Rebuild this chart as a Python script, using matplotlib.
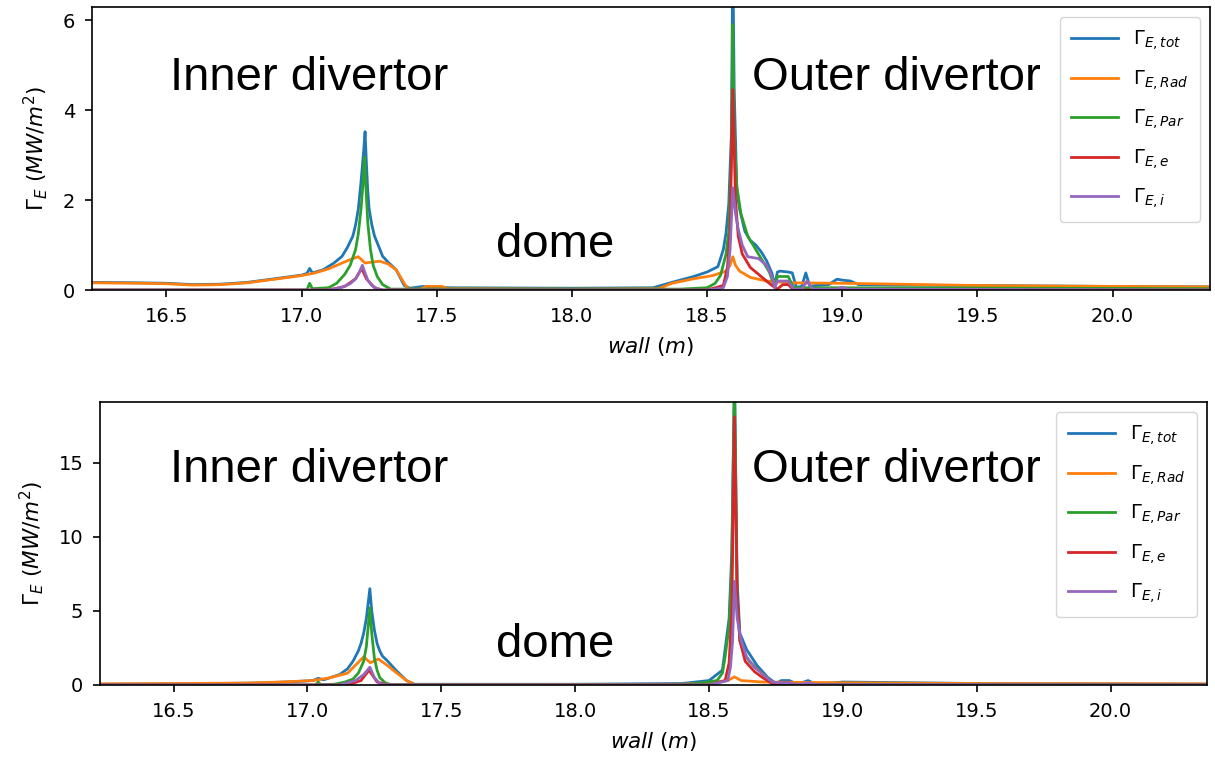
import numpy as np
import matplotlib.pyplot as plt

# values (MW/m^2) along the wall (m)
labels = [r'$\Gamma_{E,tot}$', r'$\Gamma_{E,Rad}$', r'$\Gamma_{E,Par}$',
          r'$\Gamma_{E,e}$', r'$\Gamma_{E,i}$']
colors = ['C0', 'C1', 'C2', 'C3', 'C4']

# ---- upper case ----
top_tot_x = [16.225, 16.4, 16.5, 16.6, 16.7, 16.8, 16.9, 17.0, 17.02, 17.03, 17.04, 17.08,
             17.12, 17.15, 17.17, 17.19, 17.20, 17.21, 17.22, 17.23, 17.235, 17.24, 17.245,
             17.25, 17.26, 17.27, 17.28, 17.29, 17.30, 17.32, 17.35, 17.38, 17.40, 17.45,
             17.5, 17.55, 18.0, 18.3, 18.37, 18.45, 18.5, 18.54, 18.56, 18.57, 18.58, 18.59,
             18.595, 18.60, 18.61, 18.62, 18.64, 18.66, 18.68, 18.70, 18.72, 18.74, 18.75,
             18.76, 18.77, 18.80, 18.815, 18.83, 18.85, 18.865, 18.88, 18.9, 18.95, 18.98,
             19.0, 19.03, 19.06, 19.2, 19.5, 20.0, 20.36]
top_tot_y = [0.17, 0.16, 0.15, 0.12, 0.13, 0.17, 0.25, 0.33, 0.37, 0.48, 0.38, 0.45,
             0.6, 0.75, 0.95, 1.2, 1.45, 1.8, 2.4, 3.1, 3.52, 2.8, 2.2,
             1.8, 1.45, 1.2, 1.05, 0.9, 0.75, 0.62, 0.45, 0.1, 0.04, 0.08,
             0.06, 0.05, 0.04, 0.05, 0.17, 0.3, 0.4, 0.52, 0.9, 1.27, 1.9, 3.5,
             7.5, 4.5, 2.2, 1.8, 1.3, 1.1, 1.0, 0.85, 0.65, 0.37, 0.1,
             0.4, 0.42, 0.4, 0.38, 0.06, 0.08, 0.38, 0.08, 0.1, 0.12, 0.24,
             0.22, 0.2, 0.12, 0.11, 0.1, 0.08, 0.07]

top_rad_x = [16.225, 16.4, 16.5, 16.6, 16.7, 16.8, 16.9, 17.0, 17.05, 17.1, 17.15, 17.19,
             17.21, 17.235, 17.26, 17.29, 17.32, 17.35, 17.38, 17.395, 17.44, 17.46, 17.52,
             17.54, 17.6, 18.0, 18.32, 18.37, 18.45, 18.52, 18.57, 18.585, 18.595, 18.605,
             18.62, 18.66, 18.72, 18.8, 19.0, 19.2, 19.5, 20.0, 20.36]
top_rad_y = [0.16, 0.15, 0.14, 0.11, 0.12, 0.16, 0.24, 0.32, 0.38, 0.47, 0.6, 0.7,
             0.74, 0.6, 0.62, 0.64, 0.58, 0.45, 0.15, 0.02, 0.02, 0.08, 0.08,
             0.03, 0.03, 0.02, 0.03, 0.15, 0.25, 0.32, 0.42, 0.55, 0.74, 0.55,
             0.42, 0.28, 0.2, 0.16, 0.15, 0.13, 0.1, 0.08, 0.07]

top_par_x = [16.225, 17.0, 17.02, 17.03, 17.04, 17.1, 17.13, 17.16, 17.18, 17.2, 17.21,
             17.22, 17.228, 17.233, 17.238, 17.245, 17.255, 17.265, 17.28, 17.3, 17.33,
             18.4, 18.5, 18.53, 18.55, 18.57, 18.58, 18.59, 18.595, 18.6, 18.61, 18.625,
             18.65, 18.69, 18.73, 18.75, 18.76, 18.8, 18.82, 19.0, 20.36]
top_par_y = [0.0, 0.0, 0.0, 0.15, 0.03, 0.05, 0.15, 0.35, 0.55, 0.9, 1.25,
             1.8, 2.4, 2.95, 2.3, 1.5, 0.9, 0.55, 0.3, 0.12, 0.02,
             0.02, 0.05, 0.15, 0.33, 0.8, 1.3, 3.0, 5.9, 3.5, 2.3, 1.7,
             1.2, 0.8, 0.4, 0.06, 0.3, 0.3, 0.05, 0.05, 0.03]

top_e_x = [16.225, 17.1, 17.16, 17.2, 17.222, 17.24, 17.27, 17.3, 18.5, 18.56, 18.575,
           18.585, 18.595, 18.605, 18.615, 18.63, 18.66, 18.7, 18.74, 18.76, 18.78, 18.8,
           18.82, 20.36]
top_e_y = [0.0, 0.0, 0.08, 0.25, 0.48, 0.25, 0.05, 0.0, 0.0, 0.1, 0.5,
           1.3, 4.45, 2.0, 1.2, 0.8, 0.5, 0.3, 0.1, 0.02, 0.12, 0.12,
           0.0, 0.0]

top_i_x = [16.225, 17.1, 17.15, 17.18, 17.2, 17.215, 17.225, 17.235, 17.245, 17.26, 17.28,
           17.3, 18.5, 18.56, 18.575, 18.585, 18.595, 18.605, 18.615, 18.63, 18.65, 18.69,
           18.72, 18.74, 18.75, 18.76, 18.8, 18.82, 18.85, 18.87, 18.89, 18.98, 19.0, 19.02,
           20.36]
top_i_y = [0.0, 0.0, 0.06, 0.14, 0.25, 0.4, 0.55, 0.38, 0.22, 0.1, 0.03,
           0.0, 0.0, 0.05, 0.3, 0.9, 2.27, 1.7, 1.35, 1.0, 0.74, 0.7,
           0.55, 0.3, 0.05, 0.2, 0.2, 0.02, 0.02, 0.2, 0.02, 0.02, 0.06, 0.02,
           0.0]

# ---- lower case ----
bot_tot_x = [16.225, 16.5, 16.8, 16.95, 17.02, 17.04, 17.06, 17.12, 17.15, 17.17, 17.19,
             17.2, 17.21, 17.22, 17.233, 17.24, 17.25, 17.26, 17.27, 17.28, 17.3, 17.33,
             17.37, 17.4, 18.0, 18.4, 18.5, 18.55, 18.575, 18.585, 18.595, 18.605, 18.615,
             18.64, 18.68, 18.72, 18.75, 18.77, 18.8, 18.83, 18.87, 18.9, 19.0, 19.5, 20.36]
bot_tot_y = [0.05, 0.07, 0.13, 0.22, 0.3, 0.45, 0.35, 0.7, 1.1, 1.6, 2.3,
             2.8, 3.5, 4.5, 6.5, 5.0, 3.7, 2.8, 2.3, 1.95, 1.6, 1.0,
             0.3, 0.05, 0.05, 0.1, 0.3, 1.0, 4.5, 9.0, 21.0, 7.0, 3.5,
             2.4, 1.3, 0.5, 0.1, 0.3, 0.3, 0.05, 0.3, 0.05, 0.2, 0.1, 0.05]

bot_rad_x = [16.225, 16.5, 16.78, 16.9, 17.02, 17.08, 17.15, 17.21, 17.235, 17.265, 17.3,
             17.32, 17.37, 17.4, 18.0, 18.4, 18.5, 18.57, 18.595, 18.62, 18.7, 19.0, 19.5,
             20.36]
bot_rad_y = [0.08, 0.1, 0.13, 0.2, 0.3, 0.47, 0.8, 1.9, 1.5, 1.75, 1.3,
             1.0, 0.3, 0.03, 0.03, 0.05, 0.15, 0.3, 0.55, 0.3, 0.2, 0.15, 0.1,
             0.08]

bot_par_x = [16.225, 17.0, 17.03, 17.04, 17.05, 17.1, 17.14, 17.17, 17.19, 17.21, 17.22,
             17.233, 17.24, 17.25, 17.26, 17.27, 17.29, 17.31, 18.4, 18.48, 18.53, 18.55,
             18.56, 18.575, 18.585, 18.595, 18.605, 18.615, 18.63, 18.65, 18.7, 18.735,
             18.76, 20.36]
bot_par_y = [0.0, 0.0, 0.0, 0.2, 0.02, 0.05, 0.2, 0.4, 0.8, 1.6, 2.6,
             5.2, 3.5, 1.8, 1.0, 0.5, 0.15, 0.03, 0.02, 0.15, 0.3, 0.8,
             1.9, 4.0, 8.0, 20.5, 6.0, 3.0, 2.2, 1.6, 0.75, 0.2,
             0.05, 0.03]

bot_e_x = [16.225, 17.15, 17.2, 17.23, 17.26, 17.3, 18.5, 18.56, 18.575, 18.585, 18.595,
           18.605, 18.615, 18.635, 18.67, 18.7, 18.74, 18.78, 18.8, 18.82, 20.36]
bot_e_y = [0.0, 0.0, 0.3, 1.0, 0.2, 0.0, 0.0, 0.3, 1.5, 5.0, 18.1,
           6.0, 3.0, 1.6, 0.9, 0.5, 0.05, 0.15, 0.15, 0.0, 0.0]

bot_i_x = [16.225, 17.12, 17.18, 17.21, 17.233, 17.25, 17.27, 17.3, 18.5, 18.57, 18.58,
           18.588, 18.595, 18.605, 18.62, 18.64, 18.67, 18.69, 18.735, 18.76, 18.8, 18.83,
           18.87, 18.9, 20.36]
bot_i_y = [0.0, 0.0, 0.3, 0.7, 1.2, 0.5, 0.1, 0.0, 0.0, 0.3, 1.2,
           3.0, 7.0, 4.5, 3.0, 1.9, 1.2, 0.9, 0.2, 0.15, 0.15, 0.02,
           0.15, 0.02, 0.0]

top_series = [(top_tot_x, top_tot_y), (top_rad_x, top_rad_y), (top_par_x, top_par_y),
              (top_e_x, top_e_y), (top_i_x, top_i_y)]
bot_series = [(bot_tot_x, bot_tot_y), (bot_rad_x, bot_rad_y), (bot_par_x, bot_par_y),
              (bot_e_x, bot_e_y), (bot_i_x, bot_i_y)]

fig = plt.figure(figsize=(12.15, 7.6), dpi=100)
ax1 = fig.add_axes([0.0757, 0.6184, 0.9202, 0.3724])
ax2 = fig.add_axes([0.0823, 0.0987, 0.9111, 0.3724])


def draw(ax, series, ymax, yticks):
    for (x, y), c, lab in zip(series, colors, labels):
        ax.plot(x, y, color=c, lw=2, label=lab)
    ax.set_xlim(16.225, 20.36)
    ax.set_ylim(0, ymax)
    ax.set_yticks(yticks)
    ax.set_xticks([16.5, 17.0, 17.5, 18.0, 18.5, 19.0, 19.5, 20.0])
    ax.tick_params(labelsize=14, length=5, width=1.2, pad=7)
    for s in ax.spines.values():
        s.set_linewidth(1.2)
    ax.set_xlabel(r'$wall$ $(m)$', fontsize=15.5, labelpad=7)
    ax.set_ylabel(r'$\Gamma_E$ $(MW/m^2)$', fontsize=15.5, labelpad=9)
    ax.legend(loc='upper right', fontsize=14, labelspacing=0.8, handlelength=2.4,
              borderpad=0.6)


draw(ax1, top_series, 6.29, [0, 2, 4, 6])
draw(ax2, bot_series, 19.1, [0, 5, 10, 15])

big = dict(fontsize=34, family='Liberation Sans', ha='left', va='center')
fig.text(0.1399, 0.897, 'Inner divertor', **big)
fig.text(0.619, 0.897, 'Outer divertor', **big)
fig.text(0.408, 0.678, 'dome', **big)
fig.text(0.1399, 0.382, 'Inner divertor', **big)
fig.text(0.619, 0.382, 'Outer divertor', **big)
fig.text(0.408, 0.151, 'dome', **big)

plt.savefig('out.png', dpi=100)
